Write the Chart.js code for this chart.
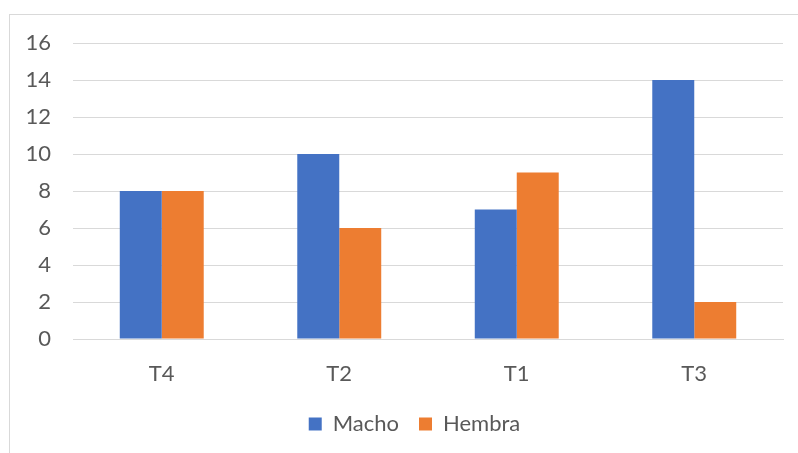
<!DOCTYPE html>
<html>
<head>
<meta charset="utf-8">
<script src="https://cdn.jsdelivr.net/npm/chart.js@4"></script>
<style>
  html, body { margin: 0; padding: 0; background: #fff; overflow: hidden; }
  #wrap { position: relative; width: 798px; height: 453px; }
  #frame {
    position: absolute; left: 9px; top: 14px; width: 820px; height: 460px;
    border: 1px solid #d9d9d9; pointer-events: none;
  }
</style>
</head>
<body>
<div id="wrap">
  <canvas id="chart" width="798" height="453"></canvas>
  <div id="frame"></div>
</div>
<script>
const categories = ["T4", "T2", "T1", "T3"];
const machoValues = [8, 10, 7, 14];
const hembraValues = [8, 6, 9, 2];
const yTicks = [0, 2, 4, 6, 8, 10, 12, 14, 16];

// the original frame runs past the right edge, so its legend sits a bit right of centre
const legendShift = {
  id: "legendShift",
  afterLayout: function (chart) {
    chart.legend.left += 46;
  },
};

document.addEventListener("DOMContentLoaded", function () {
  Chart.defaults.font.family = "Lato, 'Open Sans', sans-serif";
  Chart.defaults.font.size = 22;
  Chart.defaults.color = "#595959";

  const ctx = document.getElementById("chart").getContext("2d");
  new Chart(ctx, {
    type: "bar",
    data: {
      labels: categories,
      datasets: [
        {
          label: "Macho",
          data: machoValues,
          backgroundColor: "#4472C4",
          borderWidth: 0,
        },
        {
          label: "Hembra",
          data: hembraValues,
          backgroundColor: "#ED7D31",
          borderWidth: 0,
        },
      ],
    },
    plugins: [legendShift],
    options: {
      responsive: false,
      animation: false,
      layout: {
        padding: { top: 43, right: 15, bottom: 8, left: 0 },
      },
      categoryPercentage: 0.473,
      barPercentage: 1,
      plugins: {
        legend: {
          position: "bottom",
          labels: {
            boxWidth: 13,
            boxHeight: 13,
            padding: 20,
            color: "#595959",
          },
        },
        title: { display: false },
        tooltip: { enabled: false },
      },
      scales: {
        x: {
          grid: { display: false, drawTicks: false },
          border: { display: true, color: "#d9d9d9", width: 1 },
          ticks: { padding: 22 },
          afterFit: function (scale) {
            scale.height = 54;
          },
        },
        y: {
          min: 0,
          max: 16,
          afterBuildTicks: function (scale) {
            scale.ticks = yTicks.map((v) => ({ value: v }));
          },
          afterFit: function (scale) {
            scale.width = 73;
          },
          grid: { color: "#d9d9d9", lineWidth: 1, drawTicks: false },
          border: { display: false },
          ticks: { padding: 22 },
        },
      },
    },
  });
});
</script>
</body>
</html>
